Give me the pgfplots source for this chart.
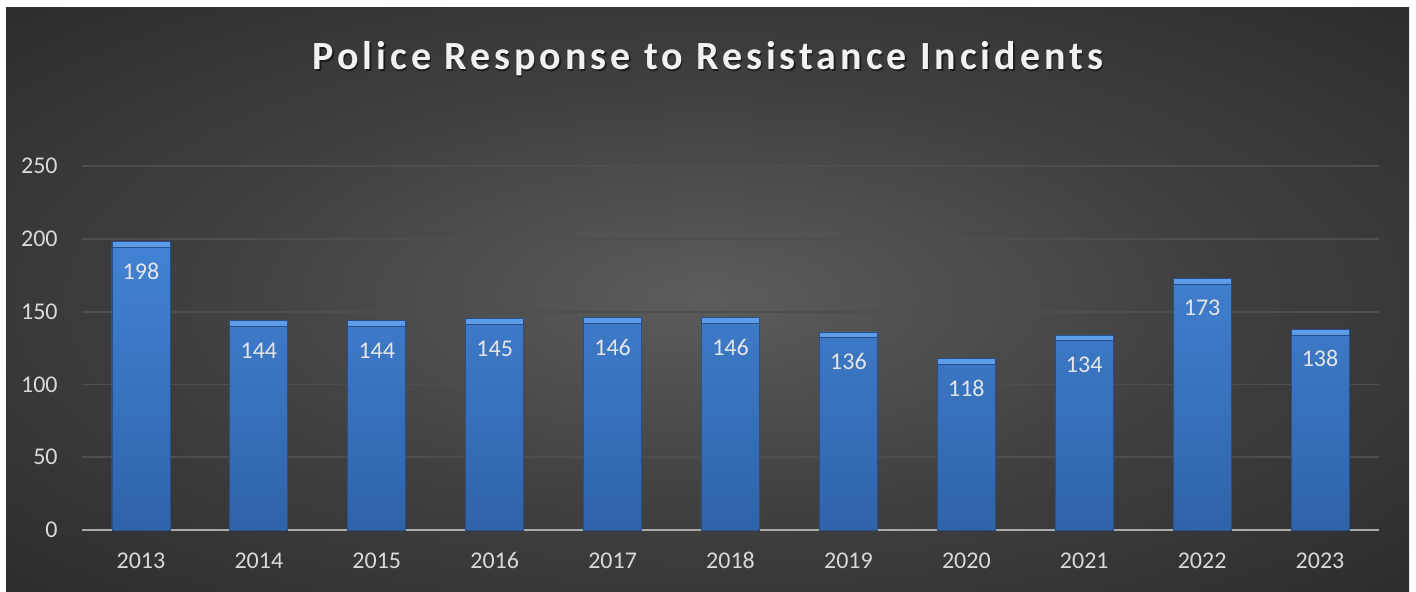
\documentclass[border=0pt]{standalone}
\usepackage{pgfplots}
\pgfplotsset{compat=1.18}
\usepackage{fontspec}
\setmainfont{Carlito}
\newfontfamily\titlefont[LetterSpace=10]{Carlito}
\definecolor{bgA}{RGB}{92,92,92}
\definecolor{bgB}{RGB}{64,64,64}
\definecolor{bgC}{RGB}{42,42,42}
\definecolor{bgD}{RGB}{32,32,32}
\definecolor{gridc}{RGB}{78,78,78}
\definecolor{axisc}{RGB}{170,170,170}
\definecolor{tickc}{RGB}{217,217,217}
\definecolor{bartop}{RGB}{66,130,210}
\definecolor{barbot}{RGB}{47,99,170}
\definecolor{barcap}{RGB}{92,156,232}
\definecolor{baredge}{RGB}{38,80,135}
\pgfdeclareradialshading{bgshade}{\pgfpoint{0bp}{0bp}}{color(0bp)=(bgA); color(18bp)=(bgB); color(38bp)=(bgC); color(60bp)=(bgD); color(80bp)=(bgD)}
\pgfplotstableread{
x v vb
0 198 194
1 144 140
2 144 140
3 145 141
4 146 142
5 146 142
6 136 132
7 118 114
8 134 130
9 173 169
10 138 134
}\datatable
\begin{document}
\begin{tikzpicture}[x=1pt,y=1pt]
\fill[white] (0,0) rectangle (708,295.5);
\shade[shading=bgshade] (3,0) rectangle (704.5,292);
\node[font=\titlefont\bfseries\fontsize{20}{24}\selectfont, text=black, opacity=0.5] at (354.7,265.3) {Police Response to Resistance Incidents};
\node[font=\titlefont\bfseries\fontsize{20}{24}\selectfont, text=white!95!black] at (354,266) {Police Response to Resistance Incidents};
\begin{axis}[
  at={(41pt,30.5pt)}, anchor=south west,
  scale only axis, width=648.5pt, height=182pt,
  xmin=-0.5, xmax=10.5, ymin=0, ymax=250,
  xtick={0,...,10},
  xticklabels={2013,2014,2015,2016,2017,2018,2019,2020,2021,2022,2023},
  ytick={50,100,150,200,250},
  extra y ticks={0},
  extra y tick style={grid style={draw=axisc, line width=1.3pt}},
  ymajorgrids,
  grid style={draw=gridc, line width=0.9pt},
  axis line style={draw=none},
  major tick length=0pt,
  tick style={draw=none},
  /pgf/number format/assume math mode=true,
  tick label style={font=\fontsize{12}{14}\selectfont, text=tickc, inner sep=0pt},
  xticklabel style={text height=7.8pt, text depth=0pt},
  yticklabel shift=12pt,
  xticklabel shift=11pt,
  ybar, bar width=29pt,
]
\addplot[fill=barcap, draw=baredge, line width=0.4pt, bar shift=0pt] table[x=x,y=v] {\datatable};
\addplot[top color=bartop, bottom color=barbot, draw=baredge, line width=0.4pt, bar shift=0pt,
  nodes near coords, point meta=explicit,
  every node near coord/.append style={anchor=north, inner sep=0pt, text height=7.8pt, text depth=0pt, yshift=-8pt, text=white!90!black, font=\fontsize{12}{14}\selectfont}]
  table[x=x,y=vb,meta=v] {\datatable};
\end{axis}
\end{tikzpicture}
\end{document}
